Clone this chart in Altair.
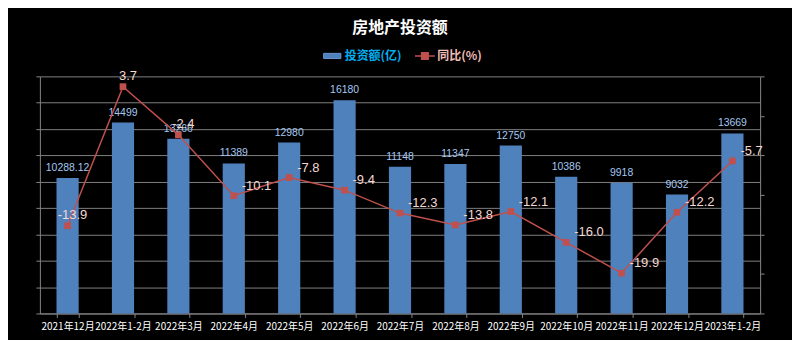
import altair as alt
import pandas as pd

months = ["2021年12月", "2022年1-2月", "2022年3月", "2022年4月", "2022年5月", "2022年6月",
          "2022年7月", "2022年8月", "2022年9月", "2022年10月", "2022年11月", "2022年12月",
          "2023年1-2月"]
invest = [10288.12, 14499, 13266, 11389, 12980, 16180, 11148, 11347, 12750, 10386, 9918, 9032, 13669]
yoy = [-13.9, 3.7, -2.4, -10.1, -7.8, -9.4, -12.3, -13.8, -12.1, -16.0, -19.9, -12.2, -5.7]
series = ["投资额(亿)", "同比(%)"]
left_ticks = list(range(0, 18001, 2000))
right_ticks = [-25, -20, -15, -10, -5, 0, 5]

BLUE = "#4F81BD"
RED = "#C0504D"
GRAY = "#868686"

df = pd.DataFrame({
    "month": months,
    "invest": invest,
    "yoy": yoy,
    "idx": list(range(len(months))),
    "invest_label": [f"{v:.2f}".rstrip("0").rstrip(".") for v in invest],
    "yoy_label": [f"{v:.1f}" for v in yoy],
    "s_bar": series[0],
    "s_line": series[1],
})

x_enc = alt.X(
    "month:N", sort=months,
    scale=alt.Scale(paddingInner=0.6, paddingOuter=0.3),
    axis=alt.Axis(title=None, labelColor="white", labelFont="Noto Sans CJK SC",
                  labelFontSize=10, labelAngle=0, labelPadding=4, labelOverlap=False,
                  domainColor=GRAY, tickColor=GRAY, tickSize=4, tickBand="extent", grid=False),
)

left_axis = alt.Axis(title=None, labels=False, values=left_ticks, grid=True,
                     gridColor="#7F7F7F", gridWidth=1, domainColor=GRAY, tickColor=GRAY, tickSize=4)
right_axis = alt.Axis(title=None, labels=False, values=right_ticks, grid=False, orient="right",
                      domainColor=GRAY, tickColor=GRAY, tickSize=4)

y_left = alt.Y("invest:Q", scale=alt.Scale(domain=[0, 18000], nice=False), axis=left_axis)
y_right = alt.Y("yoy:Q", scale=alt.Scale(domain=[-25, 5], nice=False), axis=right_axis)

legend_bar = alt.Legend(
    title=None, orient="none", legendX=284, legendY=-30, direction="horizontal",
    labelFont="Noto Sans CJK SC", labelFontSize=12, labelFontWeight="bold", labelColor="#00B0F0",
    symbolType="M-1,-0.3H1V0.3H-1Z", symbolSize=300, symbolStrokeColor="#6A95CC",
    symbolStrokeWidth=1, labelOffset=3, padding=0,
)
legend_line = alt.Legend(
    title=None, orient="none", legendX=377, legendY=-30, direction="horizontal",
    labelFont="Noto Sans CJK SC", labelFontSize=12, labelFontWeight="bold", labelColor="#F2BDB6",
    symbolType="M-1.15,0H1.15M-0.38,-0.38H0.38V0.38H-0.38Z", symbolSize=300,
    symbolFillColor=RED, symbolStrokeWidth=1.5, labelOffset=3, padding=0,
)

bars = alt.Chart(df).mark_bar().encode(
    x=x_enc, y=y_left,
    color=alt.Color("s_bar:N", scale=alt.Scale(domain=[series[0]], range=[BLUE]), legend=legend_bar),
)
bar_labels = alt.Chart(df).mark_text(
    font="Liberation Sans", fontSize=10.5, color="#A6C8F0", baseline="bottom", dy=-5
).encode(x=x_enc, y=y_left, text="invest_label:N")

line = alt.Chart(df).mark_line(strokeWidth=1.5).encode(
    x=x_enc, y=y_right,
    stroke=alt.Stroke("s_line:N", scale=alt.Scale(domain=[series[1]], range=[RED]), legend=legend_line),
)
points = alt.Chart(df).mark_point(shape="square", filled=True, size=45, color=RED, opacity=1).encode(
    x=x_enc, y=y_right)
lab_a = alt.Chart(df).transform_filter("datum.idx < 3").mark_text(
    font="Liberation Sans", fontSize=13, color="#F4D8D4", align="center", baseline="middle", dx=5, dy=-11
).encode(x=x_enc, y=y_right, text="yoy_label:N")
lab_b = alt.Chart(df).transform_filter("datum.idx >= 3").mark_text(
    font="Liberation Sans", fontSize=13, color="#F4D8D4", align="left", baseline="middle", dx=8, dy=-10
).encode(x=x_enc, y=y_right, text="yoy_label:N")

chart = alt.layer(
    alt.layer(bars, bar_labels),
    alt.layer(line, points, lab_a, lab_b),
).resolve_scale(y="independent").properties(
    width=723, height=238,
    padding={"left": 32, "top": 68, "right": 32, "bottom": 26},
    autosize=alt.AutoSizeParams(type="none"),
    background="black",
    title=alt.TitleParams("房地产投资额", color="white", fontSize=16, fontWeight="bold",
                          font="Noto Sans CJK SC", anchor="middle", offset=11),
).configure_view(strokeWidth=0)

chart.save("out.html", embed_options={"renderer": "svg", "actions": False})
